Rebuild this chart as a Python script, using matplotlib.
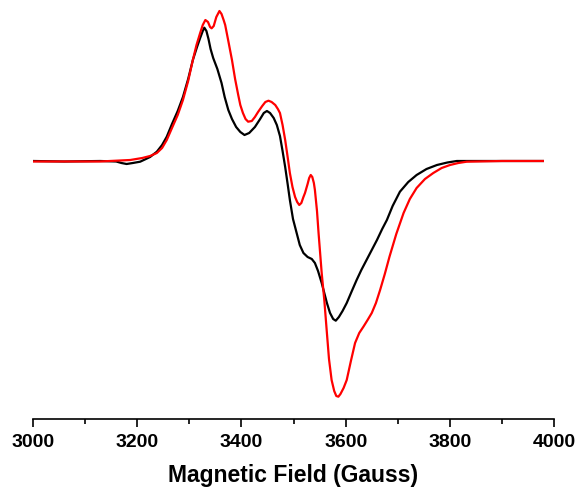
import matplotlib
matplotlib.use('Agg')
import matplotlib.pyplot as plt
from matplotlib.ticker import MultipleLocator

# field (Gauss) and intensity (arb. units)
field_black = [3001, 3060, 3129, 3160, 3170, 3180, 3192, 3206, 3215, 3225, 3238, 3248,
               3257, 3267, 3278, 3288, 3298, 3307, 3315, 3321, 3326, 3329, 3333, 3337,
               3341, 3346, 3354, 3362, 3368, 3375, 3382, 3390, 3398, 3406, 3415, 3426,
               3436, 3443, 3449, 3455, 3462, 3468, 3474, 3479, 3484, 3489, 3493, 3499,
               3506, 3512, 3519, 3527, 3535, 3541, 3547, 3554, 3559, 3564, 3570, 3576,
               3581, 3587, 3594, 3602, 3611, 3621, 3630, 3640, 3650, 3660, 3670, 3679,
               3690, 3704, 3720, 3736, 3755, 3775, 3795, 3813, 3896, 3978]
signal_black = [0, -0.5, 0, -0.5, -2, -3, -2, -0.7, 1.5, 4, 9.3, 16,
                24.3, 37, 50, 64, 82, 101, 114, 123, 130, 133.3, 130, 122,
                112, 103, 92, 78, 64, 51, 42, 34, 29, 26, 28, 34,
                42, 48, 50, 48, 43, 36, 25, 10, -6, -24, -39, -58,
                -72, -84, -92, -96, -98, -102, -110, -122, -132, -142, -152, -158,
                -159.7, -156, -150, -142, -131, -119, -109, -99, -89, -79, -68, -59,
                -45, -30.7, -21, -14, -8, -4, -1.5, 0, 0, 0]

field_red = [3001, 3060, 3129, 3187, 3210, 3225, 3238, 3248, 3257, 3267, 3278, 3288,
             3298, 3307, 3314, 3321, 3326, 3331, 3336, 3340, 3343, 3347, 3352, 3358,
             3362, 3366, 3369, 3375, 3382, 3388, 3394, 3398, 3403, 3408, 3413, 3420,
             3426, 3432, 3440, 3446, 3452, 3458, 3465, 3470, 3474, 3479, 3484, 3489,
             3493, 3498, 3503, 3507, 3511, 3515, 3519, 3522, 3527, 3530, 3533, 3536,
             3539, 3541, 3545, 3548, 3551, 3554, 3559, 3564, 3568, 3573, 3578, 3582,
             3586, 3590, 3596, 3602, 3610, 3618, 3626, 3634, 3642, 3650, 3658, 3666,
             3675, 3684, 3697, 3711, 3723, 3736, 3752, 3768, 3784, 3800, 3816, 3832,
             3900, 3978]
signal_red = [-0.5, -0.5, -0.5, 1, 3, 5, 8, 13, 21, 33, 46, 61,
              80, 101, 116, 128, 136, 141, 139, 134, 132.7, 135, 144, 150,
              147, 141, 136, 120, 101, 82, 66, 56, 48, 42, 39.3, 40,
              44, 49, 55, 59, 60.3, 59, 56, 52, 48, 36, 21, 3,
              -12, -26, -36, -41, -44, -42, -36, -32, -23, -17, -14, -16,
              -22, -29, -50, -72, -92, -112, -139, -172, -198, -219, -230, -235,
              -235.7, -233, -227, -219, -200, -182, -172, -165.7, -159, -152, -142, -129,
              -113, -95.7, -73, -52, -38, -27, -18, -12, -7, -4, -2, -0.7,
              0, 0]

xticks = [3000, 3200, 3400, 3600, 3800, 4000]

plt.rcParams['font.family'] = ['Liberation Sans', 'DejaVu Sans']

fig = plt.figure(figsize=(5.77, 4.92), dpi=100)
ax = fig.add_axes([0.0567, 0.1484, 0.9040, 0.8516])

ax.plot(field_black, signal_black, color='black', lw=1.6, solid_joinstyle='round')
ax.plot(field_red, signal_red, color='#ff0000', lw=1.6, solid_joinstyle='round')

ax.set_xlim(3000, 4000)
ax.set_ylim(-258, 161)

for s in ['top', 'left', 'right']:
    ax.spines[s].set_visible(False)
ax.spines['bottom'].set_linewidth(1.2)

ax.set_yticks([])
ax.set_xticks(xticks)
ax.set_xticklabels([str(t) for t in xticks], fontsize=14, fontweight='bold')
ax.xaxis.set_minor_locator(MultipleLocator(100))
ax.tick_params(axis='x', which='major', direction='out', length=6, width=1.2, pad=5)
ax.tick_params(axis='x', which='minor', direction='out', length=3.5, width=1.2)

ax.set_xlabel('Magnetic Field (Gauss)', fontsize=16.5, fontweight='bold', labelpad=9)

fig.savefig('out.png', dpi=100)
